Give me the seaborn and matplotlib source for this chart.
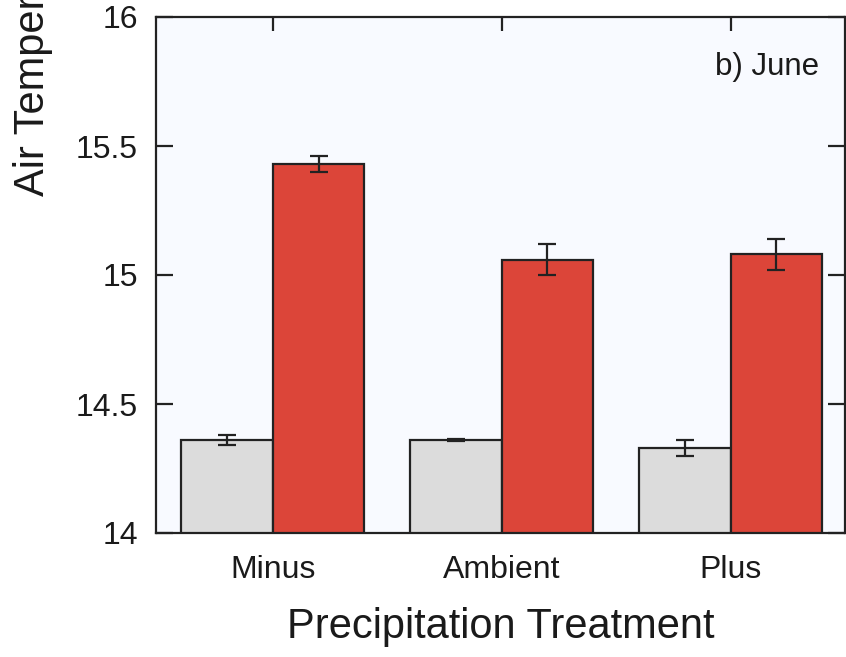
import matplotlib
matplotlib.use("Agg")
import matplotlib.pyplot as plt
import seaborn as sns
import pandas as pd
import numpy as np

categories = ["Minus", "Ambient", "Plus"]
groups = ["Control", "Warmed"]
control_means = [14.36, 14.36, 14.33]
control_err = [0.02, 0.005, 0.03]
warmed_means = [15.43, 15.06, 15.08]
warmed_err = [0.03, 0.06, 0.06]
yticks = [14, 14.5, 15, 15.5, 16]
ytick_labels = ["14", "14.5", "15", "15.5", "16"]

df = pd.DataFrame({
    "treatment": categories * 2,
    "group": [groups[0]] * 3 + [groups[1]] * 3,
    "temp": control_means + warmed_means,
    "err": control_err + warmed_err,
})

sns.set_style("ticks")
plt.rcParams["font.family"] = ["Liberation Sans", "DejaVu Sans"]
plt.rcParams["text.color"] = "#1a1a1a"
plt.rcParams["axes.labelcolor"] = "#1a1a1a"
plt.rcParams["xtick.color"] = "#1a1a1a"
plt.rcParams["ytick.color"] = "#1a1a1a"

fig = plt.figure(figsize=(8.46, 6.57), dpi=100)
ax = fig.add_axes([156/846, (657-533)/657, (845-156)/846, (533-17)/657])
ax.set_facecolor("#f8faff")

sns.barplot(data=df, x="treatment", y="temp", hue="group", order=categories,
            hue_order=groups, palette=["#dcdcdc", "#dc4539"], width=0.8,
            saturation=1, errorbar=None, edgecolor="#222222", linewidth=1.6,
            legend=False, ax=ax, zorder=2)

# error bars at patch centers
errs = control_err + warmed_err
for p, e in zip(list(ax.patches), errs):
    cx = p.get_x() + p.get_width() / 2
    top = p.get_y() + p.get_height()
    ax.errorbar(cx, top, yerr=e, fmt="none", ecolor="#222222",
                elinewidth=1.6, capsize=6.5, capthick=1.6, zorder=3)

ax.set_ylim(14, 16)
ax.set_xlim(-0.51, 2.5)
ax.set_yticks(yticks)
ax.set_yticklabels(ytick_labels)

for s in ax.spines.values():
    s.set_linewidth(1.6)
    s.set_color("#222222")
    s.set_visible(True)
    s.set_zorder(4)

ax.tick_params(axis="y", direction="in", length=12, width=1.6, color="#222222",
               left=True, right=True, labelsize=23, pad=13)
ax.tick_params(axis="x", direction="in", length=10, width=1.6, color="#222222",
               top=True, bottom=True, labelsize=23, pad=16)

ax.set_xlabel("Precipitation Treatment", fontsize=30, labelpad=16)
ax.set_ylabel("")
fig.text(33/846, 1 - 196/657, "Air Temperature (\u00b0C)", rotation=90,
         ha="center", va="bottom", fontsize=30)

ax.text(0.962, 0.903, "b) June", transform=ax.transAxes, ha="right",
        va="center", fontsize=22.5)

fig.savefig("out.png", dpi=100, facecolor="white")
